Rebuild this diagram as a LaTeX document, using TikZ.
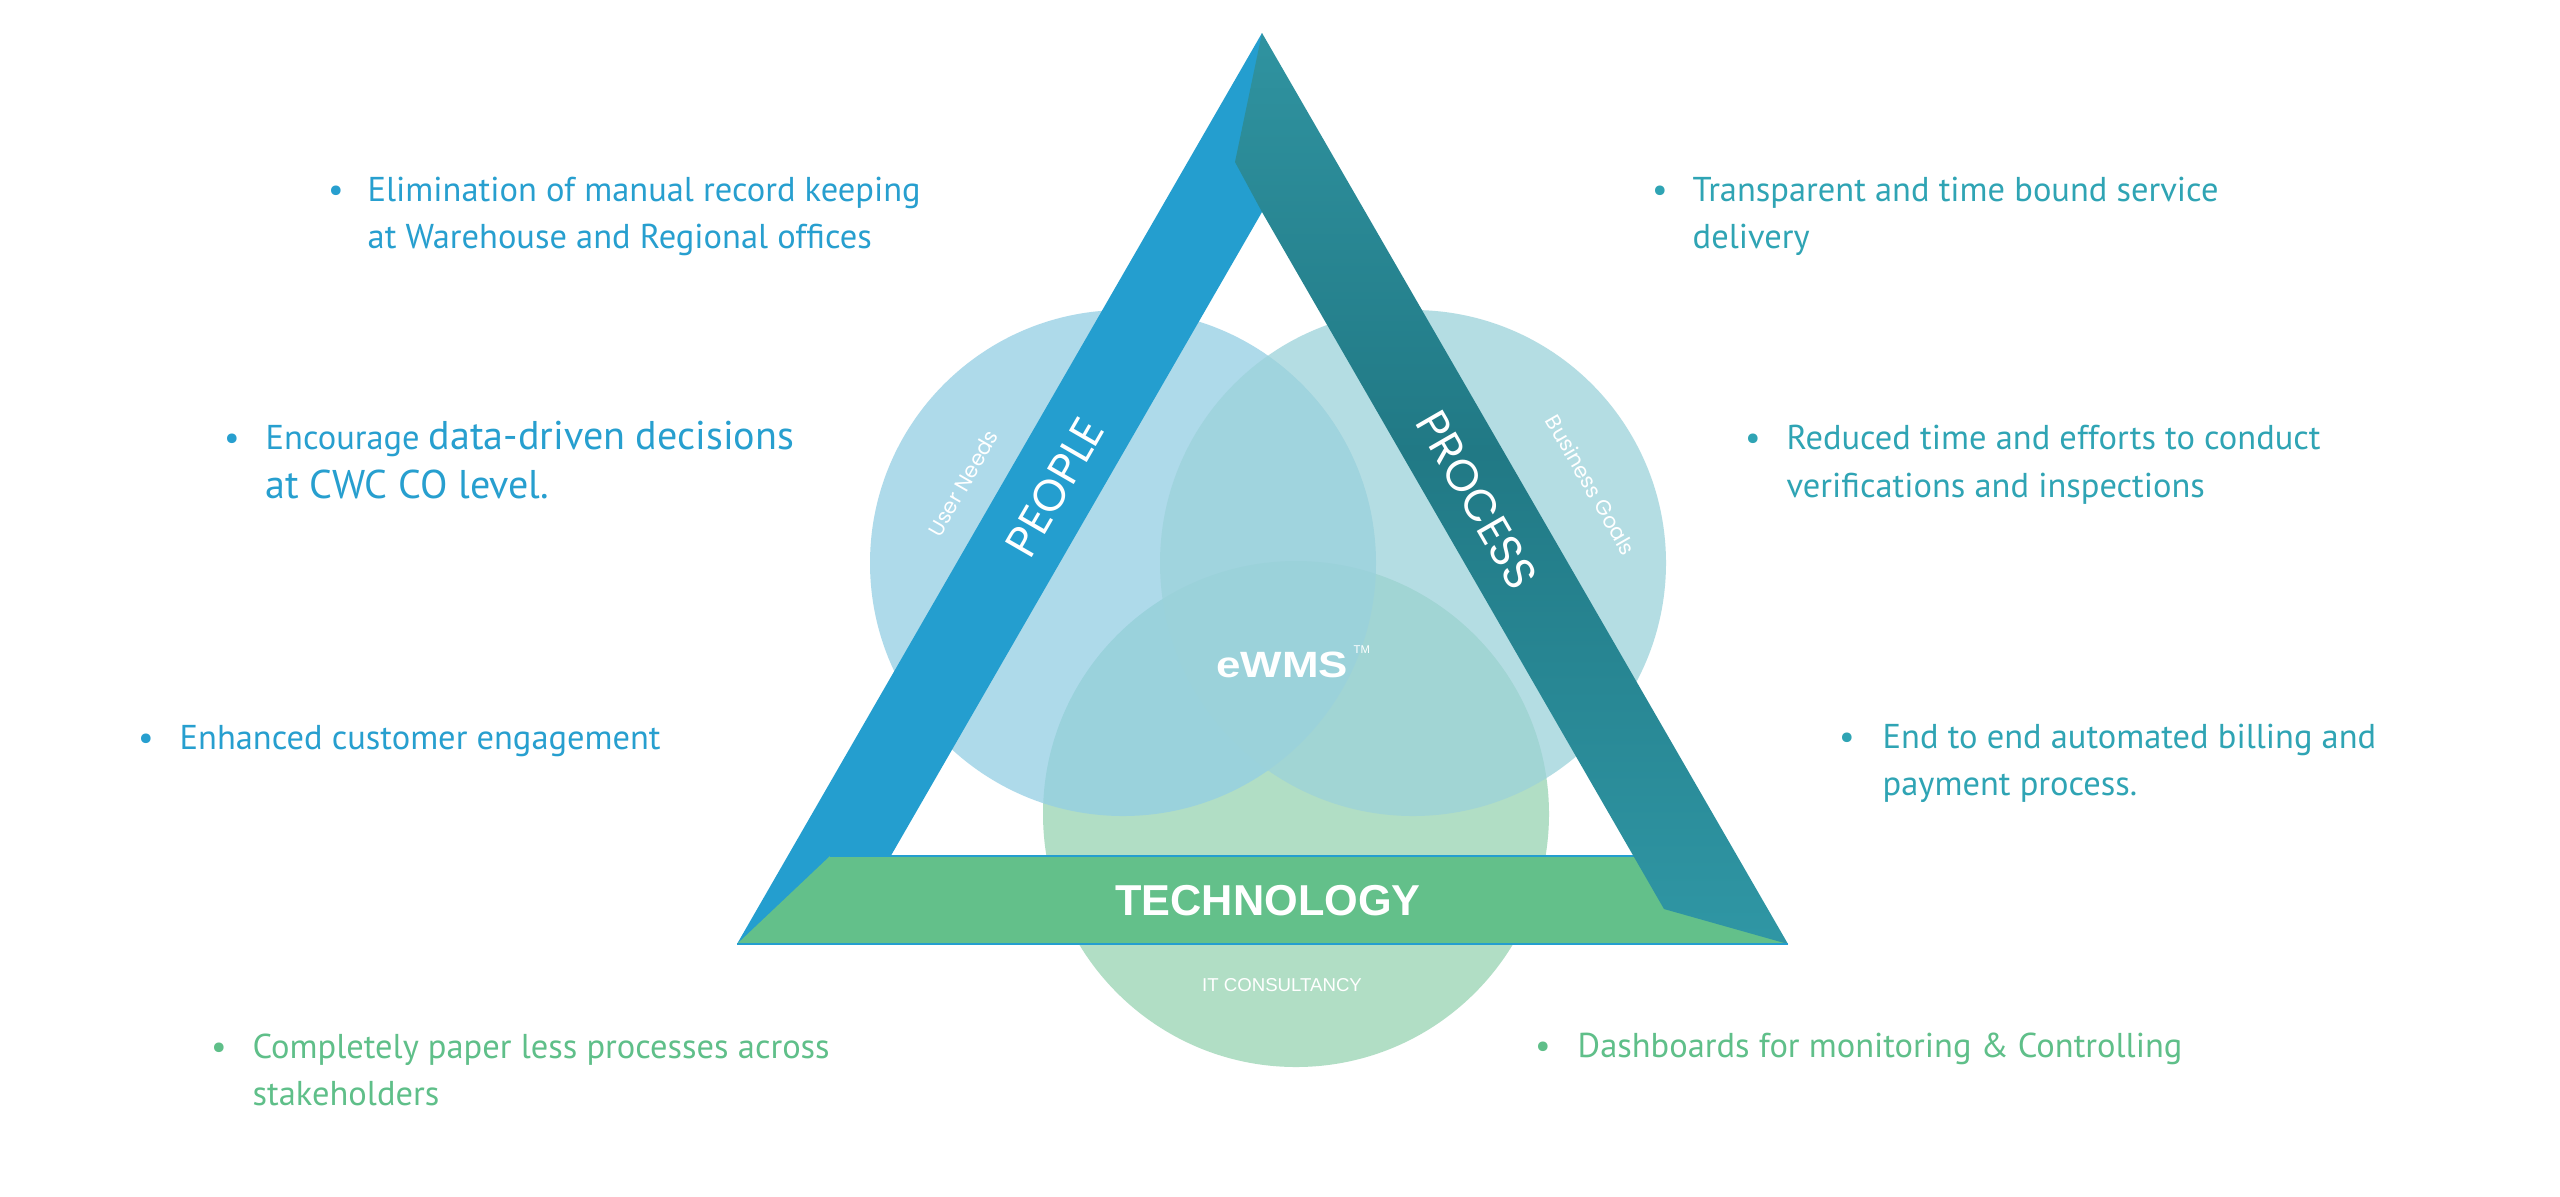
\documentclass[tikz,border=0pt]{standalone}
\usepackage{fontspec}
\setmainfont{PT Sans}
\newfontfamily\popf{Poppins}
\newfontfamily\arf{Liberation Sans}
\definecolor{cblue}{HTML}{249ECF}
\definecolor{ctealL}{HTML}{3AA6B4}
\definecolor{ctealD}{HTML}{217985}
\definecolor{ctealB}{HTML}{35A2B1}
\definecolor{cgreen}{HTML}{63C08A}
\definecolor{tblue}{HTML}{279FCF}
\definecolor{tteal}{HTML}{2FA4B4}
\definecolor{tgreen}{HTML}{5FBF89}
\definecolor{cirA}{HTML}{93CEE4}
\definecolor{cirB}{HTML}{9CD2DA}
\definecolor{cirC}{HTML}{97D4B2}
\pgfdeclareverticalshading{tealsh}{100bp}{color(0bp)=(ctealB); color(20bp)=(ctealB!85!ctealD); color(52bp)=(ctealD); color(80bp)=(ctealL!70!ctealD); color(100bp)=(ctealL)}
\begin{document}
\begin{tikzpicture}[x=0.01cm,y=-0.01cm,
  bul/.style={inner sep=0, anchor=base, font=\fontsize{9.8}{11}\selectfont},
  txt/.style={inner sep=0, anchor=base west, font=\fontsize{9.8}{11}\selectfont},
  big/.style={inner sep=0, anchor=base west, font=\fontsize{11.4}{13}\selectfont},
  circ/.style={fill opacity=0.75},
  band/.style={text=white, inner sep=0, font=\popf\fontsize{12.6}{14}\selectfont},
  sub/.style={text=white, inner sep=0, font=\popf\fontsize{6}{7}\selectfont},
]
\useasboundingbox (0,0) rectangle (2560,1196);
\fill[white] (0,0) rectangle (2560,1196);
% circles
\fill[cirC,circ] (1296,814) circle (253);
\fill[cirA,circ] (1123,563) circle (253);
\fill[cirB,circ] (1413,563) circle (253);
% people band
\fill[cblue] (1262,33) -- (1262,212) -- (840,944) -- (737,944) -- cycle;
% technology band
\fill[cgreen] (830,856) -- (1700,856) -- (1788,944) -- (737,944) -- cycle;
\draw[cblue, line width=0.6pt] (830,856) -- (1700,856);
% process band
\shade[shading=tealsh]
  (1262,33) -- (1235,162) -- (1262,212) -- (1664,909) -- (1788,944) -- cycle;
\draw[cblue, line width=0.6pt] (737,944) -- (1788,944);
% labels in diagram
\node[band, rotate=60] (people) at (1055,487) {PEOPLE};
\node[band, rotate=-60] (process) at (1477,500) {PROCESS};
\node[sub, rotate=60] (userneeds) at (963,483) {User Needs};
\node[sub, rotate=-60] (bgoals) at (1591,485) {Business Goals};
\node[text=white, inner sep=0, anchor=base, font=\arf\bfseries\fontsize{10.4}{12}\selectfont] (ewms) at (1282,677) {\scalebox{1.2}[1]{eWMS}};
\node[text=white, inner sep=0, anchor=north west, font=\arf\fontsize{3.2}{4}\selectfont] (tm) at (1353,645) {TM};
\node[text=white, inner sep=0, anchor=base, font=\arf\bfseries\fontsize{12.3}{14}\selectfont] (tech) at (1268,915) {TECHNOLOGY};
\node[text=white, inner sep=0, anchor=base, font=\arf\fontsize{5.3}{7}\selectfont] (itc) at (1282,991) {IT CONSULTANCY};
% left bullets
\node[bul, tblue] (d1) at (336,201) {•};
\node[txt, tblue] (t1a) at (367,201) {Elimination of manual record keeping};
\node[txt, tblue] (t1b) at (367,248) {at Warehouse and Regional offices};
\node[bul, tblue] (d2) at (232,449) {•};
\node[txt, tblue] (t2a) at (265,449) {Encourage {\fontsize{11.4}{13}\selectfont data-driven decisions}};
\node[big, tblue] (t2b) at (265,498) {at CWC CO level.};
\node[bul, tblue] (d3) at (146,749) {•};
\node[txt, tblue] (t3) at (179,749) {Enhanced customer engagement};
\node[bul, tgreen] (d4) at (219,1058) {•};
\node[txt, tgreen] (t4a) at (252,1058) {Completely paper less processes across};
\node[txt, tgreen] (t4b) at (252,1105) {stakeholders};
% right bullets
\node[bul, tteal] (d5) at (1660,201) {•};
\node[txt, tteal] (t5a) at (1692,201) {Transparent and time bound service};
\node[txt, tteal] (t5b) at (1692,248) {delivery};
\node[bul, tteal] (d6) at (1753,449) {•};
\node[txt, tteal] (t6a) at (1786,449) {Reduced time and efforts to conduct};
\node[txt, tteal] (t6b) at (1786,497) {verifications and inspections};
\node[bul, tteal] (d7) at (1847,748) {•};
\node[txt, tteal] (t7a) at (1882,748) {End to end automated billing and};
\node[txt, tteal] (t7b) at (1882,795) {payment process.};
\node[bul, tgreen] (d8) at (1543,1057) {•};
\node[txt, tgreen] (t8) at (1577,1057) {Dashboards for monitoring \& Controlling};
\end{tikzpicture}
\end{document}
